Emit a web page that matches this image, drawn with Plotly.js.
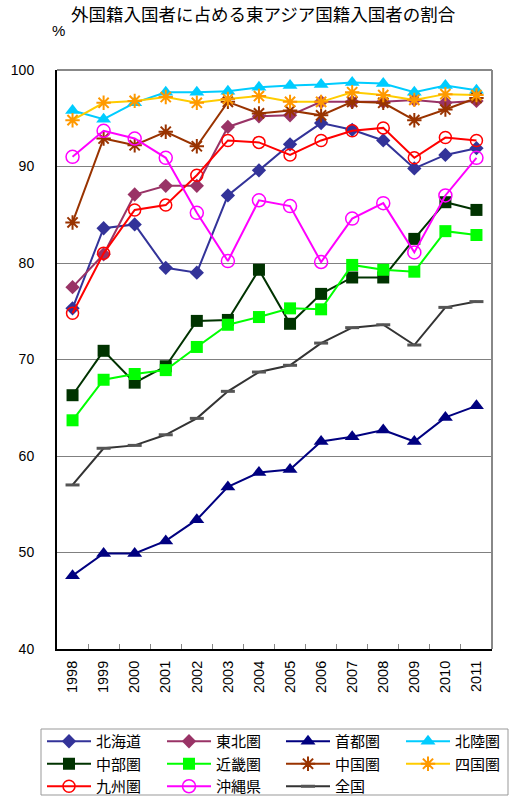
<!DOCTYPE html>
<html>
<head>
<meta charset="utf-8">
<script src="https://cdn.plot.ly/plotly-3.0.1.min.js"></script>
<style>html,body{margin:0;padding:0;background:#fff;}#chart{width:510px;height:796px;}</style>
</head>
<body>
<div id="chart"></div>
<script>
const years = ['1998','1999','2000','2001','2002','2003','2004','2005','2006','2007','2008','2009','2010','2011'];
const hokkaido = [75.3, 83.6, 84.0, 79.5, 79.0, 87.0, 89.6, 92.3, 94.5, 93.8, 92.7, 89.8, 91.2, 91.9];
const tohoku   = [77.5, 80.9, 87.1, 88.0, 88.0, 94.1, 95.2, 95.3, 96.7, 96.7, 96.7, 96.9, 96.6, 96.8];
const shuto    = [47.6, 49.9, 49.9, 51.2, 53.4, 56.8, 58.3, 58.6, 61.5, 62.0, 62.7, 61.5, 64.0, 65.2];
const hokuriku = [95.8, 94.9, 96.6, 97.7, 97.7, 97.8, 98.2, 98.4, 98.5, 98.7, 98.6, 97.7, 98.4, 97.9];
const chubu    = [66.3, 70.9, 67.6, 69.3, 74.0, 74.1, 79.3, 73.7, 76.8, 78.5, 78.5, 82.5, 86.3, 85.5];
const kinki    = [63.7, 67.9, 68.5, 68.9, 71.3, 73.6, 74.4, 75.3, 75.2, 79.8, 79.3, 79.1, 83.3, 82.9];
const chugoku  = [84.2, 92.9, 92.2, 93.6, 92.1, 96.7, 95.5, 95.8, 95.3, 96.7, 96.6, 94.8, 95.9, 97.1];
const shikoku  = [94.8, 96.6, 96.8, 97.2, 96.6, 97.0, 97.3, 96.7, 96.7, 97.7, 97.4, 96.9, 97.5, 97.4];
const kyushu   = [74.8, 81.0, 85.5, 86.0, 89.1, 92.7, 92.5, 91.2, 92.7, 93.7, 94.0, 90.9, 93.0, 92.7];
const okinawa  = [91.0, 93.7, 92.9, 90.9, 85.2, 80.2, 86.5, 85.9, 80.1, 84.6, 86.2, 81.1, 87.0, 90.9];
const zenkoku  = [57.0, 60.8, 61.1, 62.2, 63.9, 66.7, 68.7, 69.4, 71.7, 73.3, 73.6, 71.5, 75.4, 76.0];

const names = ['北海道','東北圏','首都圏','北陸圏','中部圏','近畿圏','中国圏','四国圏','九州圏','沖縄県','全国'];
const titleText = '外国籍入国者に占める東アジア国籍入国者の割合';

function tr(name, y, lineColor, symbol, size, markerColor, openLine, legendId) {
  const marker = {symbol: symbol, size: size, color: markerColor};
  if (openLine) marker.line = {color: markerColor, width: openLine};
  else marker.line = {width: 0};
  return {x: years, y: y, name: name, type: 'scatter', mode: 'lines+markers', legend: legendId,
          line: {color: lineColor, width: 2}, marker: marker, cliponaxis: false};
}

const data = [
  tr(names[0], hokkaido, '#333399', 'diamond', 11, '#333399', 0, 'legend'),
  tr(names[1], tohoku,   '#993366', 'diamond', 11, '#993366', 0, 'legend2'),
  tr(names[2], shuto,    '#000080', 'triangle-up', 13, '#000080', 0, 'legend3'),
  tr(names[3], hokuriku, '#00CCFF', 'triangle-up', 13, '#00CCFF', 0, 'legend4'),
  tr(names[4], chubu,    '#003300', 'square', 12, '#003300', 0, 'legend'),
  tr(names[5], kinki,    '#00FF00', 'square', 12, '#00FF00', 0, 'legend2'),
  tr(names[6], chugoku,  '#993300', 'asterisk-open', 12, '#993300', 2, 'legend3'),
  tr(names[7], shikoku,  '#FFCC00', 'asterisk-open', 12, '#FF9900', 2, 'legend4'),
  tr(names[8], kyushu,   '#FF0000', 'circle-open', 12, '#FF0000', 1.5, 'legend'),
  tr(names[9], okinawa,  '#FF00FF', 'circle-open', 13, '#FF00FF', 1.5, 'legend2'),
  tr(names[10], zenkoku, '#333333', 'line-ew-open', 10, '#555555', 3, 'legend3')
];

function leg(px) {
  return {
    orientation: 'v', xref: 'container', yref: 'container',
    x: px/510, y: 1 - 725/796, xanchor: 'left', yanchor: 'top',
    borderwidth: 0, bgcolor: 'rgba(0,0,0,0)', itemwidth: 44,
    font: {family: '"Noto Sans CJK JP", sans-serif', size: 15, color: '#000'},
    tracegroupgap: 0, traceorder: 'normal'
  };
}

const layout = {
  width: 510, height: 796,
  margin: {l: 57, r: 18, t: 70, b: 147, autoexpand: false},
  paper_bgcolor: '#fff', plot_bgcolor: '#fff',
  showlegend: true,
  font: {family: '"Liberation Sans", Arial, "Noto Sans CJK JP", sans-serif', size: 14, color: '#000'},
  xaxis: {
    type: 'category', range: [-0.5, 13.5],
    showline: true, linecolor: '#000', linewidth: 2,
    ticks: 'inside', ticklen: 5, tickcolor: '#888', tickson: 'boundaries',
    tickangle: -90, ticklabelstandoff: 4,
    showgrid: false, zeroline: false,
    tickfont: {family: '"Liberation Sans", Arial, sans-serif', size: 14.5, color: '#000'}
  },
  yaxis: {
    range: [40, 100], dtick: 10,
    showline: true, linecolor: '#000', linewidth: 2,
    ticks: '', ticklabelstandoff: 18,
    showgrid: true, gridcolor: '#808080', gridwidth: 1, zeroline: false,
    tickfont: {family: '"Liberation Sans", Arial, sans-serif', size: 14, color: '#000'}
  },
  shapes: [
    {type: 'line', xref: 'paper', yref: 'paper', x0: 0, x1: 1, y0: 1, y1: 1, line: {color: '#888', width: 2}},
    {type: 'line', xref: 'paper', yref: 'paper', x0: 1, x1: 1, y0: 0, y1: 1, line: {color: '#888', width: 2}},
    {type: 'rect', xref: 'paper', yref: 'paper',
     x0: (41-57)/435, x1: (508-57)/435, y0: -(729-649)/579, y1: -(795-649)/579,
     line: {color: '#999', width: 1}, fillcolor: 'rgba(0,0,0,0)'}
  ],
  annotations: [
    {text: titleText, xref: 'paper', yref: 'paper', x: (263-57)/435, y: 1 + (70-14)/579,
     xanchor: 'center', yanchor: 'middle', showarrow: false,
     font: {family: '"Noto Sans CJK JP", sans-serif', size: 17.5, color: '#000'}},
    {text: '%', xref: 'paper', yref: 'paper', x: (58-57)/435, y: 1 + (70-31)/579,
     xanchor: 'center', yanchor: 'middle', showarrow: false,
     font: {family: '"Liberation Sans", Arial, sans-serif', size: 15, color: '#000'}}
  ],
  legend: leg(42),
  legend2: leg(162),
  legend3: leg(281),
  legend4: leg(401)
};

Plotly.newPlot('chart', data, layout, {displayModeBar: false, staticPlot: true});
</script>
</body>
</html>
